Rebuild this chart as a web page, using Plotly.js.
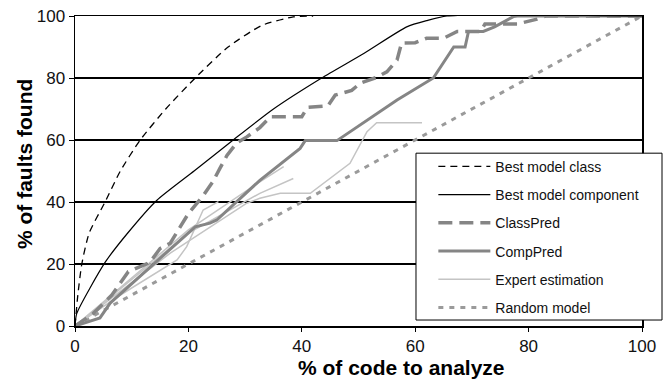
<!DOCTYPE html>
<html>
<head>
<meta charset="utf-8">
<script src="https://cdn.plot.ly/plotly-3.0.1.min.js"></script>
<style>html,body{margin:0;padding:0;background:#fff;}#chart{width:669px;height:380px;}</style>
</head>
<body>
<div id="chart"></div>
<script>
// ---- data ----
const bestClassX = [0, 0.5, 1.2, 2.5, 5.3, 8, 11.5, 16, 21.2, 27, 33, 38.5, 42];
const bestClassY = [0, 10, 20, 30, 40, 50, 60, 70, 80, 90, 97, 99.7, 100];

const bestCompX = [0, 0.3, 5.3, 9.3, 14.4, 21, 27.9, 35, 43.5, 51, 58.5, 62, 65.6, 100];
const bestCompY = [0, 4, 20.5, 30, 40.5, 50, 60, 70, 80, 88, 96.5, 98.5, 100, 100];

const classPredX = [0, 3.2, 6.5, 9.4, 13.2, 15, 16.8, 20, 22.6, 24.3, 25.6, 26.8, 28.5, 30.3, 32.6, 34.5, 40, 41, 44.6, 45.9, 48.8, 50.3, 53.2, 55, 56.8, 57.6, 60, 62, 65, 67.4, 71.5, 72.3, 78, 81.5, 83, 100];
const classPredY = [0, 4, 10, 17.5, 20.5, 25, 26.7, 36.3, 42, 46.5, 51, 55, 59, 61, 64, 67.5, 67.5, 70.5, 71, 74.5, 76, 78.3, 80.2, 82, 85.8, 91.3, 91.4, 92.8, 92.8, 95, 95, 97.4, 97.4, 99, 100, 100];

const compPredX = [0, 4.4, 6.2, 21.2, 23.8, 25, 32.6, 39.7, 40.6, 46.2, 56.8, 63.2, 66.8, 68.8, 69.4, 72, 74, 77.3, 78, 100];
const compPredY = [0, 2.6, 7.4, 32, 33.2, 34.2, 47, 57.3, 59.8, 59.8, 72.9, 80, 90, 90, 95, 95, 96.5, 99.8, 100, 100];

const expert1X = [0, 8, 18, 19.7, 22.6, 25.3];
const expert1Y = [0, 10, 21.3, 25.6, 37.4, 40.1];
const expert2X = [0, 10, 16.8, 30.3, 32.6, 36.2, 41.5, 48.5, 51.5, 53.2, 61.2];
const expert2Y = [0, 14, 23.5, 39.6, 41.2, 42.8, 42.8, 52.5, 62.7, 65.6, 65.6];
const expert3X = [0, 10, 20, 32.6, 38.5];
const expert3Y = [0, 15, 30, 42.8, 47.6];
const expert4X = [0, 10, 20, 32.6, 36.8];
const expert4Y = [0, 15.5, 31, 46.5, 51.4];

const randomX = [0, 100];
const randomY = [0, 100];

const xTicks = [0, 20, 40, 60, 80, 100];
const yTicks = [0, 20, 40, 60, 80, 100];

const FONT = '"Liberation Sans", Arial, Helvetica, sans-serif';

function tr(x, y, name, line, rank, show) {
  return {x: x, y: y, type: 'scatter', mode: 'lines', name: name, line: line,
          legendgroup: 'g' + rank, legendrank: rank, showlegend: show, hoverinfo: 'skip'};
}

const traces = [
  tr(randomX, randomY, 'Random model', {color: '#9a9a9a', width: 3, dash: '5px,6px'}, 6, true),
  tr(expert1X, expert1Y, 'Expert estimation', {color: '#c4c4c4', width: 1.5}, 5, true),
  tr(expert2X, expert2Y, 'Expert estimation', {color: '#c4c4c4', width: 1.5}, 5, false),
  tr(expert3X, expert3Y, 'Expert estimation', {color: '#c4c4c4', width: 1.5}, 5, false),
  tr(expert4X, expert4Y, 'Expert estimation', {color: '#c4c4c4', width: 1.5}, 5, false),
  tr(compPredX, compPredY, 'CompPred', {color: '#858585', width: 3}, 4, true),
  tr(classPredX, classPredY, 'ClassPred', {color: '#858585', width: 3.5, dash: '14px,7px'}, 3, true),
  tr(bestCompX, bestCompY, 'Best model component', {color: '#000', width: 1.2, shape: 'spline', smoothing: 0.6}, 2, true),
  tr(bestClassX, bestClassY, 'Best model class', {color: '#000', width: 1.3, dash: '7px,5px', shape: 'spline', smoothing: 0.6}, 1, true)
];

const layout = {
  width: 669, height: 380,
  margin: {l: 75, r: 27, t: 16, b: 54},
  paper_bgcolor: '#fff', plot_bgcolor: '#fff',
  font: {family: FONT, color: '#111', size: 16},
  showlegend: true,
  legend: {
    x: 0.632, y: 0.565, xanchor: 'left', yanchor: 'top',
    bgcolor: 'rgba(0,0,0,0)', borderwidth: 0,
    font: {family: FONT, size: 14, color: '#111'},
    traceorder: 'grouped', tracegroupgap: 7, itemwidth: 52
  },
  xaxis: {
    range: [0, 100], tickvals: xTicks, ticktext: xTicks.map(String),
    ticks: 'outside', ticklen: 4, tickcolor: '#000', tickwidth: 1,
    showline: true, linecolor: '#000', linewidth: 1.5, mirror: true,
    showgrid: false, zeroline: false,
    tickfont: {family: FONT, size: 17, color: '#111'}
  },
  yaxis: {
    range: [0, 100], tickvals: yTicks, ticktext: yTicks.map(String),
    ticks: 'outside', ticklen: 5, tickcolor: '#000', tickwidth: 1,
    showline: true, linecolor: '#000', linewidth: 1.5, mirror: true,
    showgrid: true, gridcolor: '#000', gridwidth: 1.6, zeroline: false,
    tickfont: {family: FONT, size: 17, color: '#111'}
  },
  annotations: [
    {text: '<b>% of code to analyze</b>', xref: 'paper', yref: 'paper',
     x: 0.575, y: -0.135, xanchor: 'center', yanchor: 'middle', showarrow: false,
     font: {family: FONT, size: 21, color: '#000'}},
    {text: '<b>% of faults found</b>', xref: 'paper', yref: 'paper', textangle: -90,
     x: -0.088, y: 0.523, xanchor: 'center', yanchor: 'middle', showarrow: false,
     font: {family: FONT, size: 21, color: '#000'}}
  ],
  shapes: [{
    type: 'rect', xref: 'paper', yref: 'paper', layer: 'above',
    x0: 0.6014, x1: 1.0353, y0: 0.0193, y1: 0.5575,
    fillcolor: '#fff', line: {color: '#000', width: 1}
  }]
};

Plotly.newPlot('chart', traces, layout, {staticPlot: true, displayModeBar: false});
</script>
</body>
</html>
